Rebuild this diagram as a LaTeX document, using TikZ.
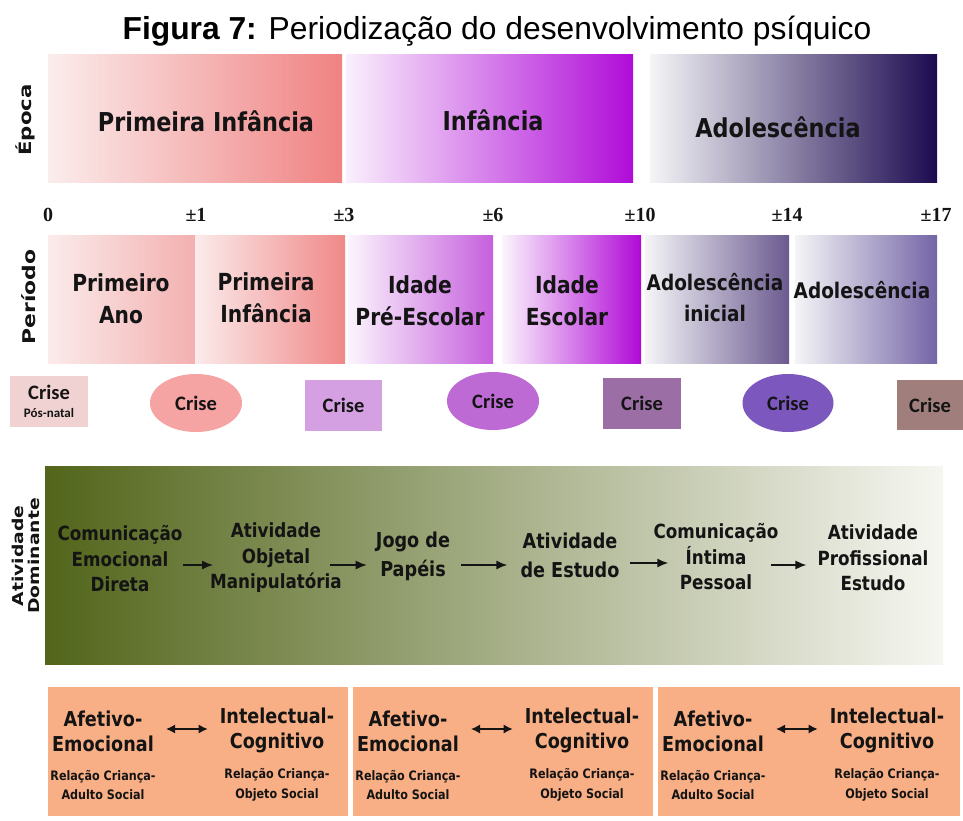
\documentclass[tikz,border=0pt]{standalone}
\usepackage{fontspec}
\setmainfont{Liberation Sans}
\newfontfamily\tah{DejaVu Sans}[FakeStretch=0.86]
\newfontfamily\tahw{DejaVu Sans}[FakeStretch=1.25]
\newfontfamily\calfont{Carlito}
\newfontfamily\serfont{Liberation Serif}
\usetikzlibrary{arrows.meta,shapes.geometric}
\definecolor{eAL}{HTML}{FBEDED}\definecolor{eAR}{HTML}{F08282}
\definecolor{eBL}{HTML}{FAF0FC}\definecolor{eBR}{HTML}{B00CD8}
\definecolor{eCL}{HTML}{F5F5F7}\definecolor{eCR}{HTML}{1C0A50}
\definecolor{pAL}{HTML}{FBEBEB}\definecolor{pAR}{HTML}{F3B0B0}
\definecolor{pBL}{HTML}{FBEBEB}\definecolor{pBR}{HTML}{F08888}
\definecolor{pCL}{HTML}{FCF4FD}\definecolor{pCR}{HTML}{C560DD}
\definecolor{pDL}{HTML}{FCF4FD}\definecolor{pDR}{HTML}{B00AD6}
\definecolor{pEL}{HTML}{F5F5F7}\definecolor{pER}{HTML}{6B5A90}
\definecolor{pFL}{HTML}{F5F5F7}\definecolor{pFR}{HTML}{7465A6}
\definecolor{acL}{HTML}{52651A}\definecolor{acM}{HTML}{AAB47E}\definecolor{acR}{HTML}{F6F6F1}
\definecolor{peach}{HTML}{F9AF85}
\definecolor{kA}{HTML}{F1D2D2}\definecolor{kB}{HTML}{F5A3A3}
\definecolor{kC}{HTML}{D5A0E2}\definecolor{kD}{HTML}{BE6AD4}
\definecolor{kE}{HTML}{9C6EA6}\definecolor{kF}{HTML}{7C58BE}
\definecolor{kG}{HTML}{A07E7C}
\definecolor{ink}{HTML}{141414}
\begin{document}
\begin{tikzpicture}[x=1pt,y=-1pt,
  box/.style={anchor=north west, inner sep=0pt, outer sep=0pt, draw=none},
  band/.style={box, minimum height=128pt},
  epochtxt/.style={font=\tah\bfseries\fontsize{26}{30}\selectfont, text=ink},
  pertxt/.style={font=\tah\bfseries\fontsize{23.5}{32}\selectfont, align=center, text=ink, inner sep=0pt},
  pertxts/.style={pertxt, font=\tah\bfseries\fontsize{21.5}{31}\selectfont},
  sidelbl/.style={font=\tahw\bfseries\fontsize{17}{17}\selectfont, rotate=90, text=ink, align=center},
  tick/.style={font=\serfont\bfseries\fontsize{20}{21}\selectfont, text=ink},
  crect/.style={box, minimum width=77pt, minimum height=51pt, font=\calfont\bfseries\fontsize{20.5}{22}\selectfont, text=ink, align=center},
  cell/.style={ellipse, inner sep=0pt, minimum width=92pt, minimum height=58pt, font=\calfont\bfseries\fontsize{20.5}{22}\selectfont, text=ink},
  acttxt/.style={font=\tah\bfseries\fontsize{19.5}{25.5}\selectfont, align=center, text=ink, inner sep=0pt},
  acttxtb/.style={font=\tah\bfseries\fontsize{20.5}{29}\selectfont, align=center, text=ink, inner sep=0pt},
  arr/.style={-{Latex[length=11pt,width=9pt]}, line width=1.4pt, draw=ink},
  darr/.style={{Latex[length=9pt,width=9pt]}-{Latex[length=9pt,width=9pt]}, line width=1.4pt, draw=ink},
  obox/.style={box, fill=peach, minimum height=129pt},
  bigtxt/.style={font=\tah\bfseries\fontsize{20.5}{25}\selectfont, align=center, text=ink, inner sep=0pt},
  smalltxt/.style={font=\tah\bfseries\fontsize{13}{19.5}\selectfont, align=center, text=ink, inner sep=0pt}
]
\useasboundingbox (0,0) rectangle (963,821);
% title
\node[font=\fontsize{31.8}{36}\selectfont, text=black] (title) at (497,31) {\textbf{Figura 7:} Periodização do desenvolvimento psíquico};

% Epoch band
\node[band, minimum width=294pt, left color=eAL, right color=eAR] (e1) at (48,55) {};
\node[band, minimum width=287pt, left color=eBL, right color=eBR] (e2) at (346,55) {};
\node[band, minimum width=287pt, left color=eCL, right color=eCR] (e3) at (650,55) {};
\node[epochtxt] (e1t) at (206,121) {Primeira Infância};
\node[epochtxt] (e2t) at (493,120) {Infância};
\node[epochtxt] (e3t) at (778,127) {Adolescência};
\node[sidelbl] (lblE) at (25,120) {Época};

% ticks
\node[tick] (t0) at (48,215) {0};
\node[tick] (t1) at (196,215) {±1};
\node[tick] (t3) at (344,215) {±3};
\node[tick] (t6) at (493,215) {±6};
\node[tick] (t10) at (640,215) {±10};
\node[tick] (t14) at (787,215) {±14};
\node[tick] (t17) at (936,215) {±17};

% Period band
\node[band, minimum width=147pt, left color=pAL, right color=pAR] (p1) at (48,235) {};
\node[band, minimum width=150pt, left color=pBL, right color=pBR] (p2) at (195,235) {};
\node[band, minimum width=145pt, left color=pCL, right color=pCR] (p3) at (348,235) {};
\node[band, minimum width=139pt, left color=pDL, right color=pDR] (p4) at (502,235) {};
\node[band, minimum width=144pt, left color=pEL, right color=pER] (p5) at (645,235) {};
\node[band, minimum width=142pt, left color=pFL, right color=pFR] (p6) at (795,235) {};
\node[pertxt] (p1t) at (121,299) {Primeiro\\Ano};
\node[pertxt] (p2t) at (266,298) {Primeira\\Infância};
\node[pertxt] (p3t) at (420,301) {Idade\\Pré-Escolar};
\node[pertxt] (p4t) at (567,301) {Idade\\Escolar};
\node[pertxts] (p5t) at (715,298) {Adolescência\\inicial};
\node[pertxts] (p6t) at (862,290) {Adolescência};
\node[sidelbl, font=\tahw\bfseries\fontsize{17.5}{17.5}\selectfont] (lblP) at (29,297) {Período};

% Crises
\node[crect, minimum width=78pt, fill=kA] (k1) at (10,376) {Crise\\[-4pt]{\fontsize{13}{14}\selectfont Pós-natal}};
\node[cell, fill=kB] (k2) at (196,403) {Crise};
\node[crect, fill=kC] (k3) at (305,380) {Crise};
\node[cell, fill=kD] (k4) at (493,401) {Crise};
\node[crect, minimum width=78pt, fill=kE] (k5) at (603,378) {Crise};
\node[cell, minimum width=91pt, fill=kF] (k6) at (788,403) {Crise};
\node[crect, minimum width=66pt, minimum height=50pt, fill=kG] (k7) at (897,380) {Crise};

% Activity band
\node[box, minimum width=898pt, minimum height=198pt, left color=acL, middle color=acM, right color=acR] (act) at (45,466) {};
\node[sidelbl, font=\tahw\bfseries\fontsize{15}{16.5}\selectfont] (lblA) at (26,556) {Atividade\\Dominante};
\node[acttxt] (a1) at (120,559) {Comunicação\\Emocional\\Direta};
\node[acttxt] (a2) at (276,558) {Atividade\\Objetal\\Manipulatória};
\node[acttxtb] (a3) at (413,556) {Jogo de\\Papéis};
\node[acttxtb] (a4) at (570,555) {Atividade\\de Estudo};
\node[acttxt] (a5) at (716,557) {Comunicação\\Íntima\\Pessoal};
\node[acttxt] (a6) at (873,558) {Atividade\\Profissional\\Estudo};
\draw[arr] ([yshift=-6pt]a1.east) -- ([xshift=3pt,yshift=-7pt]a2.west);
\draw[arr] ([xshift=-12pt,yshift=-7pt]a2.east) -- ([xshift=-9pt,yshift=-9pt]a3.west);
\draw[arr] ([xshift=11pt,yshift=-9pt]a3.east) -- ([xshift=-13pt,yshift=-10pt]a4.west);
\draw[arr] ([xshift=10pt,yshift=-8pt]a4.east) -- ([xshift=15pt,yshift=-6pt]a5.west);
\draw[arr] ([xshift=-8pt,yshift=-8pt]a5.east) -- ([xshift=-11pt,yshift=-7pt]a6.west);

% Bottom boxes
\foreach \i/\x/\w in {1/48/300, 2/353/300, 3/658/302}{
  \node[obox, minimum width=\w pt] (b\i) at (\x,687) {};
  \node[bigtxt] (f\i) at (\x+55,731) {Afetivo-\\Emocional};
  \node[bigtxt] (g\i) at (\x+229,730) {Intelectual-\\Cognitivo};
  \node[smalltxt] (fs\i) at (\x+55,785) {Relação Criança-\\Adulto Social};
  \node[smalltxt] (gs\i) at (\x+229,785) {Relação Criança-\\Objeto Social};
  \draw[darr] ([xshift=12pt,yshift=2pt]f\i.east) -- ([xshift=-12pt,yshift=1pt]g\i.west);
}
\end{tikzpicture}
\end{document}
